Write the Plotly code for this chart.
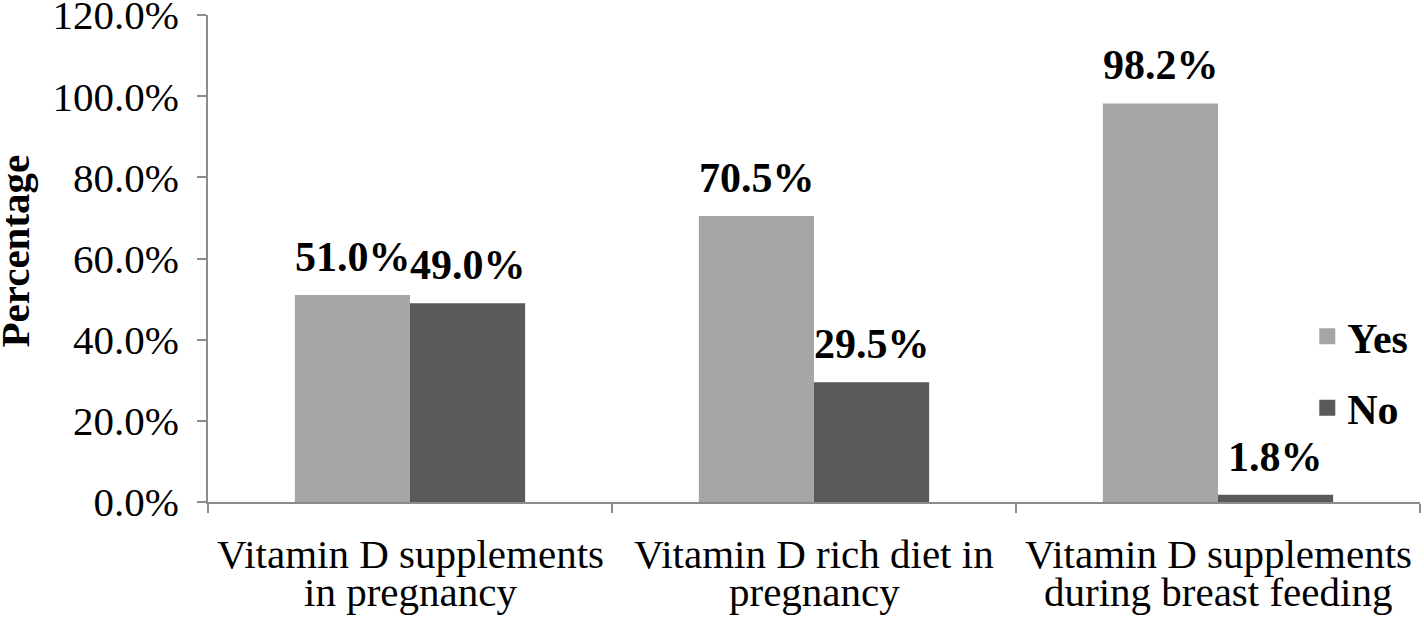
import plotly.graph_objects as go

categories = ["Vitamin D supplements in pregnancy",
              "Vitamin D rich diet in pregnancy",
              "Vitamin D supplements during breast feeding"]
tick_label_lines = [["Vitamin D supplements", "in pregnancy"],
                    ["Vitamin D rich diet in", "pregnancy"],
                    ["Vitamin D supplements", "during breast feeding"]]
series_names = ["Yes", "No"]
yes_vals = [51.0, 70.5, 98.2]
no_vals = [49.0, 29.5, 1.8]
y_ticks = [0, 20, 40, 60, 80, 100, 120]
y_tick_labels = [f"{v:.1f}%" for v in y_ticks]

FONT = "Liberation Serif"
YES_C = "#a6a6a6"
NO_C = "#595959"
AX_C = "#8c8c8c"

fig = go.Figure()
for name, vals, col in ((series_names[0], yes_vals, YES_C), (series_names[1], no_vals, NO_C)):
    fig.add_trace(go.Bar(name=name, x=categories, y=vals, showlegend=False,
                         marker=dict(color=col, line=dict(width=0))))
# legend entries with larger square swatches
for name, col, grp in ((series_names[0], YES_C, "a"), (series_names[1], NO_C, "b")):
    fig.add_trace(go.Scatter(name=name, x=[None], y=[None], mode="markers", legendgroup=grp,
                             marker=dict(symbol="square", size=20, color=col, line=dict(width=0))))

annotations = []
for i, cat in enumerate(categories):
    for vals, shift in ((yes_vals, -57.5), (no_vals, 57.5)):
        annotations.append(dict(x=cat, y=vals[i], xref="x", yref="y", text=f"<b>{vals[i]:.1f}%</b>",
                                showarrow=False, xshift=shift, yshift=13, yanchor="bottom",
                                font=dict(family=FONT, size=42, color="black")))
    for j, line in enumerate(tick_label_lines[i]):
        annotations.append(dict(x=cat, y=0, xref="x", yref="paper", text=line, showarrow=False,
                                yanchor="middle", xanchor="center", yshift=-52 - 38 * j,
                                font=dict(family=FONT, size=41, color="black")))
annotations.append(dict(x=-0.159, y=0.515, xref="paper", yref="paper", text="<b>Percentage</b>",
                        textangle=-90, showarrow=False, xanchor="center", yanchor="middle",
                        font=dict(family=FONT, size=41, color="black")))

fig.update_layout(
    width=1424, height=620,
    margin=dict(l=208, r=4, t=15, b=118),
    paper_bgcolor="white", plot_bgcolor="white",
    barmode="group", bargap=0.43, bargroupgap=0,
    font=dict(family=FONT, color="black"),
    annotations=annotations,
    showlegend=True,
    legend=dict(x=0.907, y=0.41, xanchor="left", yanchor="top", traceorder="grouped",
                font=dict(family=FONT, size=42, color="black", weight="bold"),
                bgcolor="rgba(0,0,0,0)", tracegroupgap=14),
    xaxis=dict(showline=True, linecolor=AX_C, linewidth=2, ticks="outside", tickson="boundaries",
               ticklen=9, tickwidth=2, tickcolor=AX_C, showgrid=False, automargin=False,
               showticklabels=False),
    yaxis=dict(range=[0, 120], tickvals=y_ticks, ticktext=y_tick_labels, showline=True, linecolor=AX_C,
               linewidth=2, ticks="outside", ticklen=9, tickwidth=2, tickcolor=AX_C, showgrid=False,
               zeroline=False, tickfont=dict(family=FONT, size=41, color="black"), ticklabelstandoff=10,
               ticklabeloverflow="allow", automargin=False),
)

fig.write_html("out.html", config={"displayModeBar": False},
               post_script="document.body.style.margin='0';document.body.style.padding='0';")
